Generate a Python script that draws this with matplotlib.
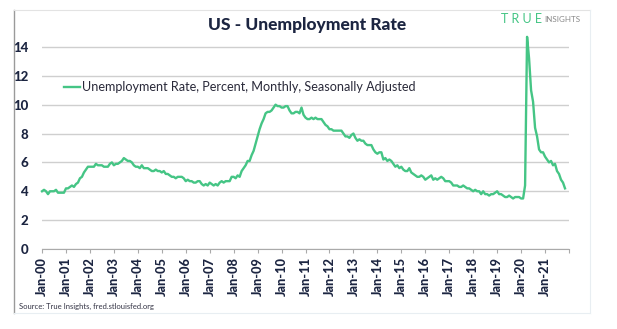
import numpy as np
import matplotlib
matplotlib.use('Agg')
import matplotlib.pyplot as plt
from matplotlib.lines import Line2D

plt.rcParams['font.family'] = ['Lato', 'DejaVu Sans']

# monthly unemployment rate, Jan-2000 .. Nov-2021
rate = [
    4.0, 4.1, 4.0, 3.8, 4.0, 4.0, 4.0, 4.1, 3.9, 3.9, 3.9, 3.9,
    4.2, 4.2, 4.3, 4.4, 4.3, 4.5, 4.6, 4.9, 5.0, 5.3, 5.5, 5.7,
    5.7, 5.7, 5.7, 5.9, 5.8, 5.8, 5.8, 5.7, 5.7, 5.7, 5.9, 6.0,
    5.8, 5.9, 5.9, 6.0, 6.1, 6.3, 6.2, 6.1, 6.1, 6.0, 5.8, 5.7,
    5.7, 5.6, 5.8, 5.6, 5.6, 5.6, 5.5, 5.4, 5.4, 5.5, 5.4, 5.4,
    5.3, 5.4, 5.2, 5.2, 5.1, 5.0, 5.0, 4.9, 5.0, 5.0, 5.0, 4.9,
    4.7, 4.8, 4.7, 4.7, 4.6, 4.6, 4.7, 4.7, 4.5, 4.4, 4.5, 4.4,
    4.6, 4.5, 4.4, 4.5, 4.4, 4.6, 4.7, 4.6, 4.7, 4.7, 4.7, 5.0,
    5.0, 4.9, 5.1, 5.0, 5.4, 5.6, 5.8, 6.1, 6.1, 6.5, 6.8, 7.3,
    7.8, 8.3, 8.7, 9.0, 9.4, 9.5, 9.5, 9.6, 9.8, 10.0, 9.9, 9.9,
    9.8, 9.8, 9.9, 9.9, 9.6, 9.4, 9.4, 9.5, 9.5, 9.4, 9.8, 9.3,
    9.1, 9.0, 9.0, 9.1, 9.0, 9.1, 9.0, 9.0, 9.0, 8.8, 8.6, 8.5,
    8.3, 8.3, 8.2, 8.2, 8.2, 8.2, 8.2, 8.0, 7.8, 7.8, 7.7, 7.9,
    8.0, 7.7, 7.5, 7.6, 7.5, 7.5, 7.3, 7.2, 7.2, 7.2, 6.9, 6.7,
    6.6, 6.7, 6.7, 6.2, 6.3, 6.1, 6.2, 6.1, 5.9, 5.7, 5.8, 5.6,
    5.7, 5.5, 5.4, 5.4, 5.6, 5.3, 5.2, 5.1, 5.0, 5.0, 5.1, 5.0,
    4.8, 4.9, 5.0, 5.1, 4.8, 4.9, 4.8, 4.9, 5.0, 4.9, 4.7, 4.7,
    4.7, 4.6, 4.4, 4.4, 4.4, 4.3, 4.3, 4.4, 4.3, 4.2, 4.2, 4.1,
    4.0, 4.1, 4.0, 4.0, 3.8, 4.0, 3.8, 3.8, 3.7, 3.8, 3.8, 3.9,
    4.0, 3.8, 3.8, 3.7, 3.6, 3.6, 3.7, 3.6, 3.5, 3.6, 3.6, 3.6,
    3.5, 3.5, 4.4, 14.7, 13.2, 11.0, 10.2, 8.4, 7.8, 6.9, 6.7, 6.7,
    6.4, 6.2, 6.0, 6.1, 5.8, 5.9, 5.4, 5.2, 4.8, 4.6, 4.2,
]
years = ['00', '01', '02', '03', '04', '05', '06', '07', '08', '09', '10',
         '11', '12', '13', '14', '15', '16', '17', '18', '19', '20', '21']
tick_labels = ['Jan-' + y for y in years] + ['']
y_ticks = [0, 2, 4, 6, 8, 10, 12, 14]

navy = '#1c2541'
green = '#45c585'

fig = plt.figure(figsize=(6.17, 3.29), dpi=100)
ax = fig.add_axes([0.0681, 0.2432, 0.8541, 0.6492])

ax.plot(np.arange(len(rate)), rate, color=green, lw=1.7, clip_on=False,
        label='Unemployment Rate, Percent, Monthly, Seasonally Adjusted')

ax.set_xlim(0, 12 * (len(tick_labels) - 1))
ax.set_ylim(0, 14.8)
ax.set_xticks(np.arange(len(tick_labels)) * 12)
ax.set_xticklabels(tick_labels, rotation=90, fontsize=9.2, fontweight='black', color=navy)
ax.set_yticks(y_ticks)
ax.set_yticklabels([str(v) for v in y_ticks], fontsize=9.5, fontweight='black', color=navy)
ax.tick_params(axis='y', length=0, pad=10)
ax.tick_params(axis='x', length=3, color='#aaaaaa', pad=3)
ax.grid(axis='y', color='#cfcfcf', lw=1)
ax.set_axisbelow(True)
for s in ['top', 'right', 'left']:
    ax.spines[s].set_visible(False)
ax.spines['bottom'].set_color('#aaaaaa')

ax.legend(loc='upper left', bbox_to_anchor=(0.02, 0.84), frameon=False,
          fontsize=9.1, handlelength=1.3, handletextpad=0.1, labelcolor='#2a2a3a')

fig.text(0.498, 0.925, 'US - Unemployment Rate', ha='center', va='center',
         fontsize=12.5, fontweight='black', color=navy)
fig.text(0.812, 0.942, 'T R U E', ha='left', va='center', fontsize=9, color=green)
fig.text(0.882, 0.942, 'INSIGHTS', ha='left', va='center', fontsize=5.8, color='#8a8a8a')
fig.text(0.03, 0.07, 'Source: True Insights, fred.stlouisfed.org', ha='left', va='center',
         fontsize=5.5, color='#333344')

# outer frame
fig.add_artist(Line2D([0.023, 0.023], [0.05, 0.97], color='#9a9a9a', lw=1))
fig.add_artist(Line2D([0.023, 0.957], [0.97, 0.97], color='#e3e3e3', lw=0.8))
fig.add_artist(Line2D([0.957, 0.957], [0.05, 0.97], color='#e8eef2', lw=0.8))
fig.add_artist(Line2D([0.023, 0.957], [0.05, 0.05], color='#e8eef2', lw=0.8))

fig.savefig('out.png', dpi=100)
